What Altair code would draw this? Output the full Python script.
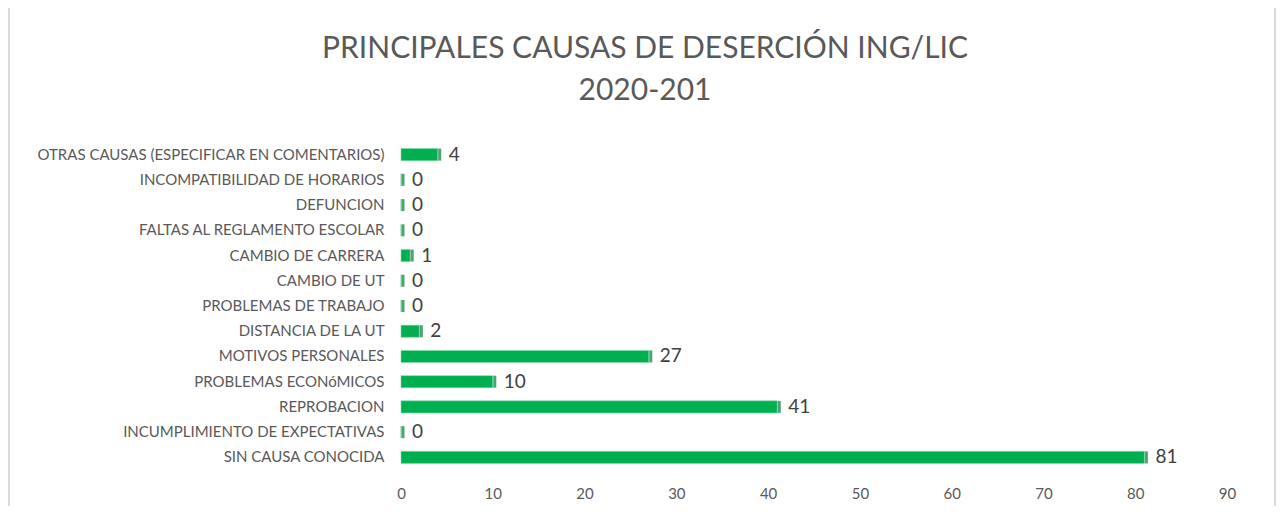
import altair as alt
import pandas as pd

categories = [
    "OTRAS CAUSAS (ESPECIFICAR EN COMENTARIOS)",
    "INCOMPATIBILIDAD DE HORARIOS",
    "DEFUNCION",
    "FALTAS AL REGLAMENTO ESCOLAR",
    "CAMBIO DE CARRERA",
    "CAMBIO DE UT",
    "PROBLEMAS DE TRABAJO",
    "DISTANCIA DE LA UT",
    "MOTIVOS PERSONALES",
    "PROBLEMAS ECONóMICOS",
    "REPROBACION",
    "INCUMPLIMIENTO DE EXPECTATIVAS",
    "SIN CAUSA CONOCIDA",
]
values = [4, 0, 0, 0, 1, 0, 0, 2, 27, 10, 41, 0, 81]
x_ticks = [0, 10, 20, 30, 40, 50, 60, 70, 80, 90]

df = pd.DataFrame({"causa": categories, "valor": values})

FONT = "Lato"
GRAY = "#595959"

y_enc = alt.Y(
    "causa:N",
    sort=categories,
    title=None,
    scale=alt.Scale(paddingInner=0.52, paddingOuter=0.26),
    axis=alt.Axis(
        domain=False, ticks=False, labelPadding=17, labelFontSize=15,
        labelColor=GRAY, labelFont=FONT, labelLimit=400,
    ),
)
x_enc = alt.X(
    "valor:Q",
    title=None,
    scale=alt.Scale(domain=[0, 90], nice=False),
    axis=alt.Axis(
        values=x_ticks, domain=False, ticks=False, grid=False, labelFlush=False,
        labelPadding=16, labelFontSize=15, labelColor=GRAY, labelFont=FONT,
    ),
)

base = alt.Chart(df)

bars = base.mark_bar(color="#00B050", stroke="#7fd7a6", strokeWidth=0.6).encode(x=x_enc, y=y_enc)
side = base.mark_tick(color="#007A38", thickness=3, size=12, xOffset=2).encode(
    x=alt.X("valor:Q"), y=alt.Y("causa:N", sort=categories)
)
labels = base.mark_text(
    align="left", baseline="middle", dx=11, fontSize=19, color="#404040", font=FONT
).encode(x=alt.X("valor:Q"), y=alt.Y("causa:N", sort=categories), text="valor:Q")

frame_l = base.mark_rule(color="#d9d9d9", strokeWidth=1).encode(
    x=alt.value(-392), y=alt.value(-134), y2=alt.value(364)
)
frame_r = base.mark_rule(color="#d9d9d9", strokeWidth=1).encode(
    x=alt.value(874), y=alt.value(-134), y2=alt.value(364)
)

chart = (
    alt.layer(bars, side, labels, frame_l, frame_r)
    .properties(
        width=826,
        height=328,
        autosize=alt.AutoSizeParams(type="none"),
        padding={"left": 393, "top": 134, "right": 49, "bottom": 36},
        title=alt.TitleParams(
            text=["PRINCIPALES CAUSAS DE DESERCIÓN ING/LIC", "2020-201"],
            fontSize=30, font=FONT, fontWeight="normal", color=GRAY,
            lineHeight=42, anchor="middle", frame="group", dx=-169, offset=-98,
        ),
    )
    .configure_view(stroke=None)
)

chart.save("out.html", embed_options={"renderer": "svg", "actions": False})
